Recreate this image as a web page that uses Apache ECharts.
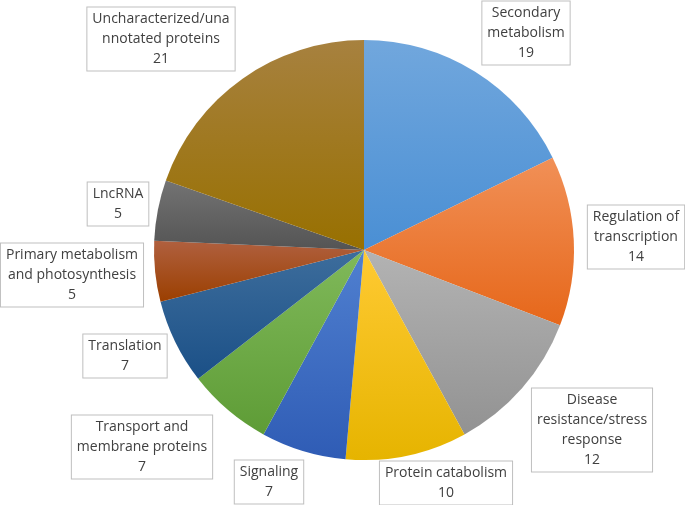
<!DOCTYPE html>
<html>
<head>
<meta charset="utf-8">
<script src="https://cdn.jsdelivr.net/npm/echarts@6/dist/echarts.min.js"></script>
<style>
  html, body { margin: 0; padding: 0; background: #fff; }
  #chart { width: 685px; height: 505px; }
</style>
</head>
<body>
<div id="chart"></div>
<script>
// categories, clockwise from 12 o'clock
var categories = [
  'Secondary\nmetabolism',
  'Regulation of\ntranscription',
  'Disease\nresistance/stress\nresponse',
  'Protein catabolism',
  'Signaling',
  'Transport and\nmembrane proteins',
  'Translation',
  'Primary metabolism\nand photosynthesis',
  'LncRNA',
  'Uncharacterized/una\nnnotated proteins'
]
var counts = [19, 14, 12, 10, 7, 7, 7, 5, 5, 21]

// slice gradients (top colour, bottom colour)
var topColors = ['#71A7DD', '#F19057', '#B3B3B3', '#FFCA33', '#5080D0', '#80B95A', '#3D6D9C', '#B0603F', '#737373', '#A7813F']
var bottomColors = ['#4A8FD4', '#E6671A', '#929292', '#E6B400', '#2F5CB5', '#5E9C36', '#1B5087', '#9B3F00', '#545454', '#987000']

// where the boxed labels sit (box centres)
var labelPos = [
  [526, 33], [636, 237], [592, 430], [446, 483], [269, 482],
  [142, 447], [125, 356], [72, 275], [118, 204], [161, 39]
]

var myChart = echarts.init(document.getElementById('chart'))

var data = categories.map(function (name, i) {
  return {
    name: name,
    value: counts[i],
    itemStyle: {
      color: new echarts.graphic.LinearGradient(0, 0, 0, 1, [
        { offset: 0, color: topColors[i] },
        { offset: 1, color: bottomColors[i] }
      ])
    }
  }
})

var option = {
  animation: false,
  series: [{
    type: 'pie',
    center: [364, 250],
    radius: [0, 210],
    startAngle: 90,
    clockwise: true,
    avoidLabelOverlap: false,
    data: data,
    itemStyle: { borderWidth: 0 },
    label: {
      show: true,
      position: 'outside',
      formatter: '{b}\n{c}',
      fontFamily: 'Open Sans',
      fontSize: 14,
      lineHeight: 20,
      color: '#404040',
      align: 'center',
      backgroundColor: '#fff',
      borderColor: '#BFBFBF',
      borderWidth: 1,
      padding: [2, 5, 1, 5]
    },
    labelLine: { show: false },
    labelLayout: function (params) {
      var p = labelPos[params.dataIndex]
      return { x: p[0], y: p[1], align: 'center', verticalAlign: 'middle' }
    },
    emphasis: { disabled: true }
  }]
}

myChart.setOption(option)
</script>
</body>
</html>
